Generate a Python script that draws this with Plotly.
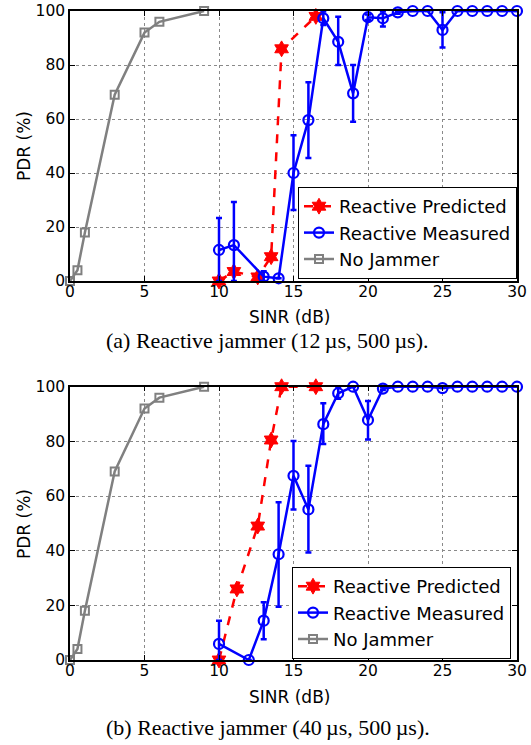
import plotly.graph_objects as go

# ---- data ----
nj_x = [0, 0.5, 1, 3, 5, 6, 9]
nj_y = [0, 4, 18, 69, 92, 96, 100]

a_pred_x = [10, 11, 12.6, 13.5, 14.2, 16.5]
a_pred_y = [0, 3.5, 1.5, 9, 86, 98]
a_meas_x = [10, 11, 13, 14, 15, 16, 17, 18, 19, 20, 21, 22, 23, 24, 25, 26, 27, 28, 29, 30]
a_meas_y = [11.5, 13.3, 1.6, 1, 40, 59.6, 97.3, 88.6, 69.5, 97.7, 97.3, 99.5, 100, 100, 93, 100, 100, 100, 100, 100]
a_err_plus = [11.8, 16, 2, 0, 14, 14, 2.5, 9.3, 10.5, 1, 2.5, 0.5, 0, 0, 6.5, 0, 0, 0, 0, 0]
a_err_minus = [11.5, 13.3, 1.6, 0, 13.7, 14, 2.5, 8.6, 10.5, 1, 3, 0.5, 0, 0, 6.5, 0, 0, 0, 0, 0]

b_pred_x = [10, 11.2, 12.6, 13.5, 14.2, 16.5]
b_pred_y = [0, 26, 49, 80.5, 100, 100]
b_meas_x = [10, 12, 13, 14, 15, 16, 17, 18, 19, 20, 21, 22, 23, 24, 25, 26, 27, 28, 29, 30]
b_meas_y = [5.9, 0, 14.4, 38.7, 67.4, 55.1, 86.3, 97.6, 100, 87.8, 99.3, 100, 100, 100, 99.5, 100, 100, 100, 100, 100]
b_err_plus = [8.5, 0, 6.7, 19, 12.7, 16, 7.6, 2, 0, 7, 0.5, 0, 0, 0, 0, 0, 0, 0, 0, 0]
b_err_minus = [5.9, 0, 6.8, 19.2, 12.3, 15.8, 7.3, 2, 0, 7.1, 0.5, 0, 0, 0, 0, 0, 0, 0, 0, 0]

x_ticks = [0, 5, 10, 15, 20, 25, 30]
y_ticks = [0, 20, 40, 60, 80, 100]
captions = ["(a) Reactive jammer (12\u2009\u00b5s, 500\u2009\u00b5s).",
            "(b) Reactive jammer (40\u2009\u00b5s, 500\u2009\u00b5s)."]

W, H = 531, 745
SANS = "DejaVu Sans, Arial, sans-serif"
SERIF = "Liberation Serif, Times New Roman, serif"
RED, BLUE, GRAY = "#ff0000", "#0000ff", "#808080"

fig = go.Figure()

panels = [
    (a_pred_x, a_pred_y, a_meas_x, a_meas_y, a_err_plus, a_err_minus, "x", "y", "legend"),
    (b_pred_x, b_pred_y, b_meas_x, b_meas_y, b_err_plus, b_err_minus, "x2", "y2", "legend2"),
]
for px, py, mx, my, ep, em, xa, ya, lg in panels:
    fig.add_trace(go.Scatter(
        x=px, y=py, mode="lines+markers", name="Reactive Predicted",
        line=dict(color=RED, width=2.5, dash="dash"),
        marker=dict(symbol="hexagram", size=12, color=RED, line=dict(color=RED, width=1)),
        xaxis=xa, yaxis=ya, legend=lg, cliponaxis=False))
    fig.add_trace(go.Scatter(
        x=mx, y=my, mode="lines+markers", name="Reactive Measured",
        line=dict(color=BLUE, width=2.5),
        marker=dict(symbol="circle-open", size=10, color=BLUE, line=dict(color=BLUE, width=2.2)),
        error_y=dict(type="data", symmetric=False, array=ep, arrayminus=em,
                     color=BLUE, thickness=2.5, width=3),
        xaxis=xa, yaxis=ya, legend=lg, cliponaxis=False))
    fig.add_trace(go.Scatter(
        x=nj_x, y=nj_y, mode="lines+markers", name="No Jammer",
        line=dict(color=GRAY, width=2.5),
        marker=dict(symbol="square-open", size=8, color=GRAY, line=dict(color=GRAY, width=2)),
        xaxis=xa, yaxis=ya, legend=lg, cliponaxis=False))

x0, x1 = 70 / W, 517 / W
doms = [(1 - 281 / H, 1 - 11 / H), (1 - 660 / H, 1 - 386.7 / H)]

axis_common = dict(
    showline=True, linecolor="black", linewidth=1.5, mirror="ticks",
    ticks="inside", ticklen=5, tickcolor="black",
    showgrid=True, gridcolor="#8a8a8a", griddash="dot", gridwidth=1,
    zeroline=False, tickfont=dict(family=SANS, size=15.5, color="black"),
    automargin=False, ticklabeloverflow="allow",
)
fig.update_layout(
    xaxis=dict(domain=[x0, x1], range=[0, 30], tickvals=x_ticks, anchor="y",
               ticklabelstandoff=-4, **axis_common),
    yaxis=dict(domain=list(doms[0]), range=[0, 100], tickvals=y_ticks, anchor="x", **axis_common),
    xaxis2=dict(domain=[x0, x1], range=[0, 30], tickvals=x_ticks, anchor="y2",
                ticklabelstandoff=-4, **axis_common),
    yaxis2=dict(domain=list(doms[1]), range=[0, 100], tickvals=y_ticks, anchor="x2", **axis_common),
)

legend_common = dict(
    bgcolor="white", bordercolor="black", borderwidth=1,
    font=dict(family=SANS, size=18, color="black"),
    xanchor="right", yanchor="bottom", tracegroupgap=0, itemwidth=30,
)
fig.update_layout(
    legend=dict(x=517 / W, y=1 - 279 / H, **legend_common),
    legend2=dict(x=511 / W, y=1 - 659 / H, **legend_common),
)

ann = []
for i, (yt, yc, yp) in enumerate([(317, 340, 146), (697, 727, 524)]):
    ann.append(dict(text="SINR (dB)", x=289 / W, y=1 - yt / H, xref="paper", yref="paper",
                    showarrow=False, font=dict(family=SANS, size=17, color="black"),
                    xanchor="center", yanchor="middle"))
    ann.append(dict(text="PDR (%)", x=24 / W, y=1 - yp / H, xref="paper", yref="paper",
                    showarrow=False, textangle=-90, font=dict(family=SANS, size=17, color="black"),
                    xanchor="center", yanchor="middle"))
    ann.append(dict(text=captions[i], x=267.5 / W, y=1 - yc / H, xref="paper", yref="paper",
                    showarrow=False, font=dict(family=SERIF, size=22, color="black"),
                    xanchor="center", yanchor="middle"))

fig.update_layout(
    width=W, height=H, margin=dict(l=0, r=0, t=0, b=0),
    paper_bgcolor="white", plot_bgcolor="white",
    annotations=ann, showlegend=True,
)

fig.write_html("out.html", config={"displayModeBar": False},
               post_script="document.body.style.margin='0';document.body.style.overflow='hidden';")
